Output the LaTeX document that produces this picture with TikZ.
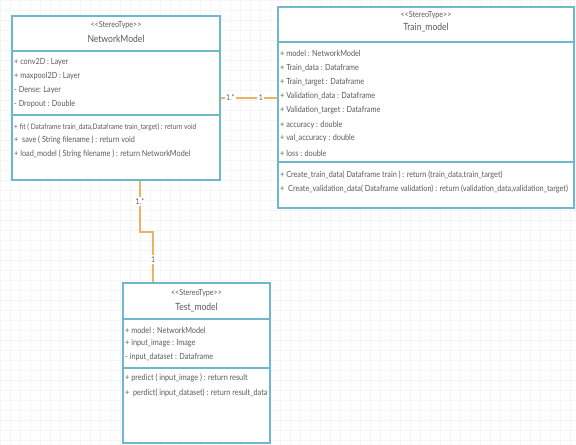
\documentclass[tikz,border=0pt]{standalone}
\usepackage{fontspec}
\setmainfont{Lato}[FakeStretch=0.86]
\definecolor{boxline}{HTML}{6FB8CC}
\definecolor{assocline}{HTML}{E9B467}
\definecolor{txt}{HTML}{5A5A5A}
\definecolor{gridc}{HTML}{F5F5F5}
\newcommand{\stereotag}{<{}<StereoType>{}>}
\begin{document}
\begin{tikzpicture}[x=1bp,y=-1bp,
  classbox/.style={draw=boxline, line width=1.6bp, fill=white, rectangle, inner sep=0pt},
  sepline/.style={draw=boxline, line width=1.6bp},
  member/.style={anchor=west, inner sep=0pt, font=\fontsize{8.5}{10}\selectfont, text=txt},
  longmember/.style={member, font=\fontsize{7.6}{9}\selectfont},
  stereo/.style={anchor=center, inner sep=0pt, font=\fontsize{8.3}{9}\selectfont, text=txt},
  cname/.style={anchor=center, inner sep=0pt, font=\fontsize{10}{11}\selectfont, text=txt},
  assoc/.style={draw=assocline, line width=1.6bp},
  mult/.style={fill=white, inner sep=1.5bp, font=\fontsize{8}{9}\selectfont, text=txt}]
\useasboundingbox (0,0) rectangle (576,445);
\fill[white] (0,0) rectangle (576,445);
\draw[gridc, line width=0.5bp, step=10bp] (0,0) grid (576,445);

% NetworkModel class
\node[classbox, minimum width=208bp, minimum height=164bp] (nm) at (116,98) {};
\draw[sepline] (nm.west |- 0,51) -- (nm.east |- 0,51);
\draw[sepline] (nm.west |- 0,115) -- (nm.east |- 0,115);
\node[stereo] (nms) at (116,25) {\stereotag};
\node[cname] (nmn) at (116,39) {NetworkModel};
\node[member] (nma1) at (14,62) {+ conv2D : Layer};
\node[member] (nma2) at (14,76) {+ maxpool2D : Layer};
\node[member] (nma3) at (14,90) {- Dense: Layer};
\node[member] (nma4) at (14,104) {- Dropout : Double};
\node[longmember] (nmo1) at (14,127) {+ fit ( Dataframe train\_data,Dataframe train\_target) : return void};
\node[member] (nmo2) at (14,140) {+ \ save ( String filename ) : return void};
\node[member] (nmo3) at (14,154) {+ load\_model ( String filename ) : return NetworkModel};

% Train_model class
\node[classbox, minimum width=296bp, minimum height=201bp] (tm) at (426,107.5) {};
\draw[sepline] (tm.west |- 0,42) -- (tm.east |- 0,42);
\draw[sepline] (tm.west |- 0,162) -- (tm.east |- 0,162);
\node[stereo] (tms) at (426,15) {\stereotag};
\node[cname] (tmn) at (426,28) {Train\_model};
\node[member] (tma1) at (280,53) {+ model : NetworkModel};
\node[member] (tma2) at (280,68) {+ Train\_data : Dataframe};
\node[member] (tma3) at (280,82) {+ Train\_target : Dataframe};
\node[member] (tma4) at (280,96) {+ Validation\_data : Dataframe};
\node[member] (tma5) at (280,110) {+ Validation\_target : Dataframe};
\node[member] (tma6) at (280,125) {+ accuracy : double};
\node[member] (tma7) at (280,138) {+ val\_accuracy : double};
\node[member] (tma8) at (280,153) {+ loss : double};
\node[member] (tmo1) at (280,175) {+ Create\_train\_data( Dataframe train ) : return (train\_data,train\_target)};
\node[member] (tmo2) at (280,189) {+ \ Create\_validation\_data( Dataframe validation) : return (validation\_data,validation\_target)};

% Test_model class
\node[classbox, minimum width=147bp, minimum height=160bp] (ts) at (196.5,363) {};
\draw[sepline] (ts.west |- 0,319) -- (ts.east |- 0,319);
\draw[sepline] (ts.west |- 0,368) -- (ts.east |- 0,368);
\node[stereo] (tss) at (196.5,293) {\stereotag};
\node[cname] (tsn) at (196.5,308) {Test\_model};
\node[member] (tsa1) at (125,330) {+ model : NetworkModel};
\node[member] (tsa2) at (125,343) {+ input\_image : Image};
\node[member] (tsa3) at (125,357) {- input\_dataset : Dataframe};
\node[member] (tso1) at (125,378) {+ predict ( input\_image ) : return result};
\node[member] (tso2) at (125,393) {+ \ perdict( input\_dataset) : return result\_data};

% associations
\draw[assoc] (nm.east) -- node[mult, pos=0.17] {1.*} node[mult, pos=0.71] {1} (nm.east -| tm.west);
\coordinate (jog) at (140,232);
\coordinate (jog2) at (153,232);
\draw[assoc] (nm.south -| jog) -- node[mult, pos=0.4] {1.*} (jog) -- (jog2)
  -- node[mult, pos=0.55] {1} (jog2 |- ts.north);
\end{tikzpicture}
\end{document}
